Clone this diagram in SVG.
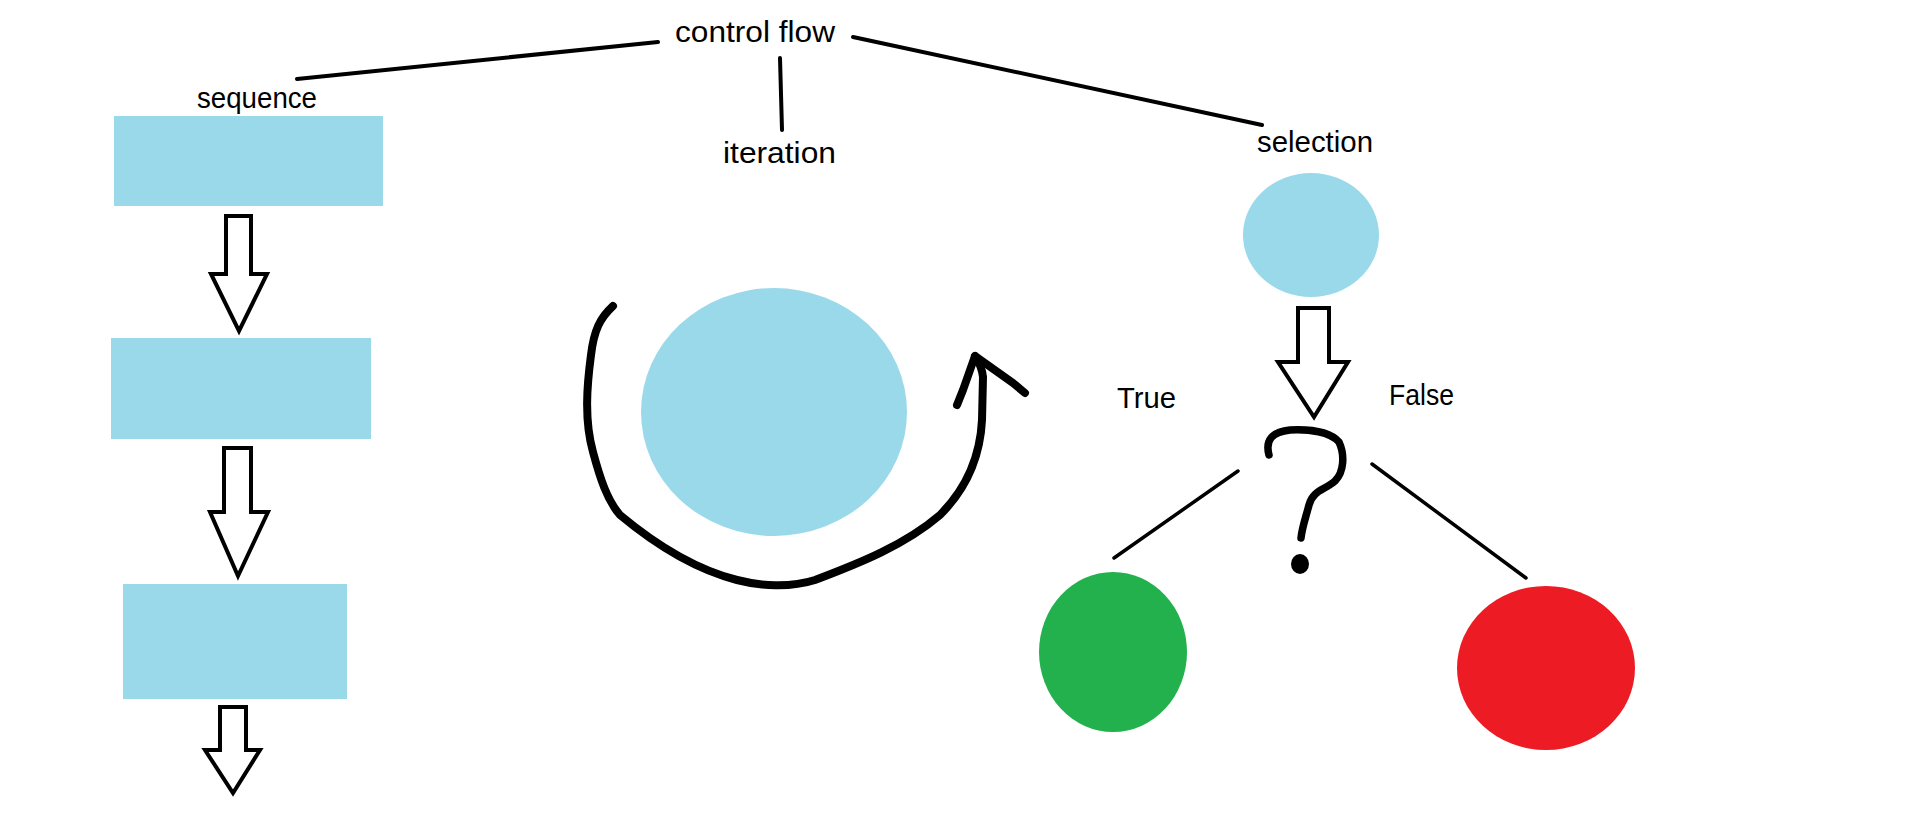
<svg xmlns="http://www.w3.org/2000/svg" width="1914" height="831" viewBox="0 0 1914 831">
<style>
text{font-family:"Liberation Sans",Arial,sans-serif;font-size:30px;fill:#000}
.blue{fill:#99D9EA}
.blk{fill:#fff;stroke:#000;stroke-width:4;stroke-linejoin:miter}
.ln{fill:none;stroke:#000;stroke-width:4;stroke-linecap:round}
.thin{fill:none;stroke:#000;stroke-width:3.5;stroke-linecap:round}
.hand{fill:none;stroke:#000;stroke-width:8;stroke-linecap:round;stroke-linejoin:round}
.q{fill:none;stroke:#000;stroke-width:7.5;stroke-linecap:round;stroke-linejoin:round}
</style>
<rect width="1914" height="831" fill="#fff"/>
<g id="connectors">
<path class="ln" d="M297,79 L658,42"/>
<path class="ln" d="M780,58 L782,130"/>
<path class="ln" d="M853,37 L1262,125"/>
<path class="thin" d="M1238,471 L1114,558"/>
<path class="thin" d="M1372,464 L1526,578"/>
<polygon class="blk" points="226,216 251,216 251,274 267,274 239,331 211,274 226,274"/>
<polygon class="blk" points="224,448 251,448 251,512 268,512 238,576 210,512 224,512"/>
<polygon class="blk" points="220,707 246,707 246,750 260,750 233,793 205,750 220,750"/>
<polygon class="blk" points="1298,308 1329,308 1329,362 1348,362 1314,417 1278,362 1298,362"/>
<path class="hand" d="M613,306 C600,318 594,330 591,355 C587,385 584,420 593,452 C600,478 607,500 620,515 C650,540 690,568 737,580 C760,586 790,588 815,580 C860,563 905,545 940,515 C965,490 980,460 982,420 L983,377 C982,368 979,362 975,356"/>
<path class="hand" d="M957,405 L963,390 L975,356 L1013,383 L1025,393"/>
</g>
<g id="control-flow"><text x="675" y="42" textLength="160" lengthAdjust="spacingAndGlyphs">control flow</text></g>
<g id="sequence-label"><text x="197" y="108" textLength="120" lengthAdjust="spacingAndGlyphs">sequence</text></g>
<g id="iteration-label"><text x="723" y="163" textLength="113" lengthAdjust="spacingAndGlyphs">iteration</text></g>
<g id="selection-label"><text x="1257" y="152" textLength="116" lengthAdjust="spacingAndGlyphs">selection</text></g>
<g id="seq-box-1"><rect class="blue" x="114" y="116" width="269" height="90"/></g>
<g id="seq-box-2"><rect class="blue" x="111" y="338" width="260" height="101"/></g>
<g id="seq-box-3"><rect class="blue" x="123" y="584" width="224" height="115"/></g>
<g id="iteration-circle"><ellipse class="blue" cx="774" cy="412" rx="133" ry="124"/></g>
<g id="selection-circle"><ellipse class="blue" cx="1311" cy="235" rx="68" ry="62"/></g>
<g id="question">
<path class="q" d="M1269,455 C1265,440 1272,432 1290,430 C1310,429 1330,432 1339,442 C1345,455 1344,472 1335,481 C1325,490 1313,490 1309,505 C1305,520 1302,528 1301,538"/>
<ellipse cx="1300" cy="564" rx="9" ry="10" fill="#000"/>
</g>
<g id="true-label"><text x="1117" y="408" textLength="59" lengthAdjust="spacingAndGlyphs">True</text></g>
<g id="false-label"><text x="1389" y="405" textLength="65" lengthAdjust="spacingAndGlyphs">False</text></g>
<g id="true-node"><ellipse cx="1113" cy="652" rx="74" ry="80" fill="#22B14C"/></g>
<g id="false-node"><ellipse cx="1546" cy="668" rx="89" ry="82" fill="#ED1C24"/></g>
</svg>
